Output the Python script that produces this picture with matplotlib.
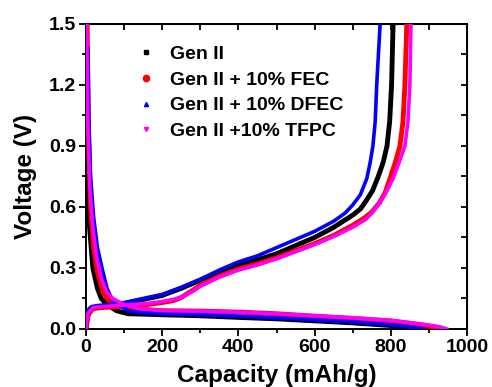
"""Charge/discharge voltage profiles for Gen II electrolyte with fluorinated additives."""

import matplotlib
matplotlib.use("Agg")
import matplotlib.pyplot as plt
from matplotlib.lines import Line2D
from matplotlib.ticker import MultipleLocator

plt.rcParams["font.family"] = ["Liberation Sans", "DejaVu Sans"]
plt.rcParams["font.weight"] = "bold"

LABELS = ["Gen II", "Gen II + 10% FEC", "Gen II + 10% DFEC", "Gen II +10% TFPC"]
COLORS = ["#000000", "#ff0000", "#0000ff", "#ff00ff"]
MARKERS = ["s", "o", "^", "v"]

# delithiation (voltage rising) curves: capacity in mAh/g, voltage in V
charge_cap = [
    [0, 3, 8, 15, 30, 60, 100, 150, 200, 250, 300, 350, 400, 450, 500, 550, 600, 650, 700, 720, 735, 752, 767, 780, 790, 797, 802, 806],
    [0, 2, 6, 18, 40, 80, 120, 160, 200, 230, 250, 280, 300, 350, 400, 450, 500, 550, 600, 650, 700, 730, 750, 770, 785, 798, 812, 824, 832, 837, 842],
    [0, 3, 8, 15, 30, 60, 100, 150, 200, 250, 300, 350, 400, 450, 500, 550, 600, 650, 680, 700, 720, 737, 746, 753, 759, 763, 772],
    [0, 2, 6, 18, 40, 80, 120, 160, 200, 230, 250, 280, 300, 350, 400, 450, 500, 550, 600, 650, 700, 735, 755, 774, 790, 806, 822, 837, 845, 850, 853],
]
charge_v = [
    [0.0, 0.05, 0.09, 0.105, 0.11, 0.115, 0.125, 0.145, 0.165, 0.20, 0.24, 0.28, 0.315, 0.34, 0.37, 0.41, 0.45, 0.50, 0.56, 0.59, 0.63, 0.68, 0.75, 0.82, 0.90, 1.02, 1.20, 1.50],
    [0.0, 0.03, 0.07, 0.10, 0.105, 0.11, 0.115, 0.12, 0.13, 0.14, 0.155, 0.19, 0.215, 0.26, 0.295, 0.32, 0.35, 0.385, 0.42, 0.46, 0.51, 0.545, 0.575, 0.62, 0.67, 0.74, 0.82, 0.90, 1.02, 1.20, 1.50],
    [0.0, 0.06, 0.10, 0.11, 0.115, 0.12, 0.13, 0.15, 0.17, 0.205, 0.245, 0.29, 0.33, 0.36, 0.40, 0.44, 0.48, 0.53, 0.57, 0.61, 0.66, 0.74, 0.82, 0.90, 1.02, 1.20, 1.50],
    [0.0, 0.04, 0.08, 0.105, 0.11, 0.115, 0.12, 0.125, 0.135, 0.145, 0.155, 0.185, 0.21, 0.255, 0.29, 0.315, 0.345, 0.38, 0.415, 0.455, 0.50, 0.54, 0.58, 0.63, 0.68, 0.74, 0.82, 0.90, 1.02, 1.20, 1.50],
]

# lithiation (voltage falling) curves
discharge_cap = [
    [2, 5, 18, 30, 40, 55, 80, 110, 200, 300, 400, 500, 600, 700, 800, 860, 880],
    [3, 6, 12, 20, 30, 45, 60, 85, 120, 200, 300, 400, 500, 600, 700, 800, 880, 920, 934],
    [5, 8, 12, 20, 30, 42, 55, 65, 85, 110, 150, 200, 300, 400, 500, 600, 700, 800, 860, 885],
    [2, 5, 10, 18, 28, 40, 55, 70, 100, 140, 200, 300, 400, 500, 600, 700, 800, 880, 930, 947],
]
discharge_v = [
    [0.75, 0.60, 0.30, 0.20, 0.15, 0.12, 0.09, 0.075, 0.07, 0.065, 0.057, 0.05, 0.04, 0.03, 0.017, 0.006, 0.0],
    [1.50, 1.00, 0.60, 0.40, 0.28, 0.18, 0.14, 0.12, 0.10, 0.09, 0.088, 0.083, 0.075, 0.063, 0.052, 0.04, 0.02, 0.008, 0.0],
    [1.38, 1.00, 0.75, 0.55, 0.40, 0.30, 0.20, 0.16, 0.12, 0.09, 0.08, 0.075, 0.07, 0.063, 0.055, 0.045, 0.035, 0.02, 0.008, 0.0],
    [1.50, 1.00, 0.70, 0.50, 0.35, 0.25, 0.18, 0.15, 0.12, 0.10, 0.09, 0.088, 0.083, 0.075, 0.065, 0.055, 0.042, 0.025, 0.01, 0.0],
]
LINE_WIDTHS = [3.5, 3.5, 2.6, 2.6]


def main() -> None:
    fig = plt.figure(figsize=(4.92, 3.87), dpi=100)
    ax = fig.add_axes([0.1748, 0.1499, 0.7744, 0.7881])

    for i in range(4):
        ax.plot(discharge_cap[i], discharge_v[i], color=COLORS[i], lw=LINE_WIDTHS[i], zorder=2 + i)
        ax.plot(charge_cap[i], charge_v[i], color=COLORS[i], lw=LINE_WIDTHS[i], zorder=2 + i)

    ax.set_xlim(0, 1000)
    ax.set_ylim(0, 1.5)
    ax.xaxis.set_major_locator(MultipleLocator(200))
    ax.xaxis.set_minor_locator(MultipleLocator(100))
    ax.yaxis.set_major_locator(MultipleLocator(0.3))
    ax.yaxis.set_minor_locator(MultipleLocator(0.15))
    ax.yaxis.set_major_formatter(plt.FormatStrFormatter("%.1f"))

    ax.tick_params(which="both", direction="out", width=1.3, labelsize=14)
    ax.tick_params(which="major", length=5, pad=2)
    ax.tick_params(which="minor", length=3)
    for spine in ax.spines.values():
        spine.set_linewidth(1.4)

    # inward mirror ticks on the top and right edges
    top = ax.secondary_xaxis("top")
    top.xaxis.set_major_locator(MultipleLocator(100))
    top.tick_params(direction="in", length=4, width=1.3, labeltop=False)
    right = ax.secondary_yaxis("right")
    right.yaxis.set_major_locator(MultipleLocator(0.15))
    right.tick_params(direction="in", length=4, width=1.3, labelright=False)

    ax.set_xlabel("Capacity (mAh/g)", fontsize=17.5, fontweight="bold", labelpad=6)
    ax.set_ylabel("Voltage (V)", fontsize=17.5, fontweight="bold", labelpad=9)

    handles = [
        Line2D([], [], ls="none", marker=MARKERS[i], color=COLORS[i], markersize=ms)
        for i, ms in enumerate([3.5, 4.5, 3, 3])
    ]
    ax.legend(handles, LABELS, loc="upper left", bbox_to_anchor=(0.095, 0.975), frameon=False,
              handlelength=1.0, handletextpad=0.75, labelspacing=0.42, borderaxespad=0.3,
              prop={"weight": "bold", "size": 14})

    fig.savefig("out.png", dpi=100)


if __name__ == "__main__":
    main()
